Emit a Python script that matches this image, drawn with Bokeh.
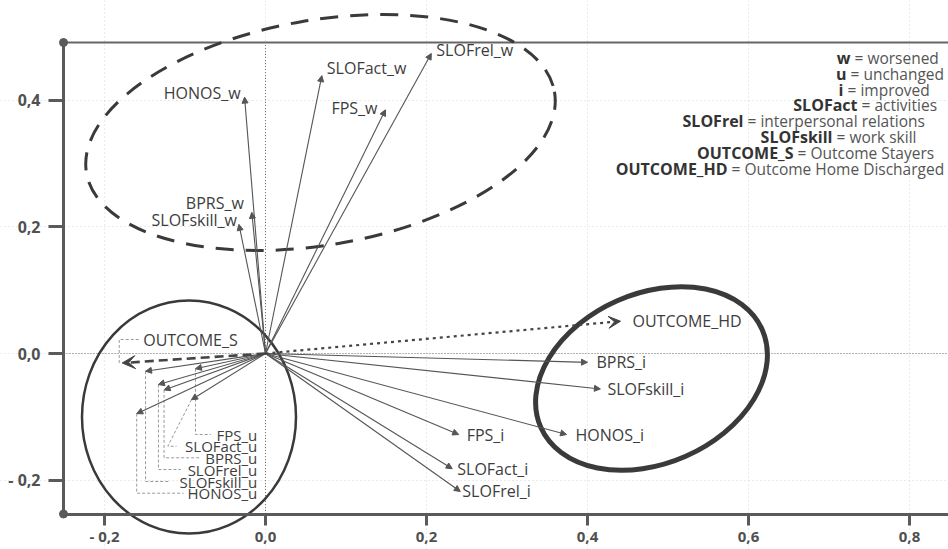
from bokeh.plotting import figure
from bokeh.models import (ColumnDataSource, Arrow, NormalHead, VeeHead, FixedTicker,
                          CustomJSTickFormatter, Range1d)
from bokeh.core.properties import value
from bokeh.embed import file_html
from bokeh.resources import INLINE

# ---------------- data ----------------
worsened_names = ["HONOS_w", "SLOFact_w", "SLOFrel_w", "FPS_w", "BPRS_w", "SLOFskill_w"]
worsened_x = [-0.026, 0.070, 0.206, 0.149, -0.017, -0.033]
worsened_y = [0.405, 0.439, 0.474, 0.385, 0.223, 0.204]

unchanged_names = ["FPS_u", "SLOFact_u", "BPRS_u", "SLOFrel_u", "SLOFskill_u", "HONOS_u"]
unchanged_x = [-0.087, -0.092, -0.126, -0.133, -0.149, -0.160]
unchanged_y = [-0.024, -0.073, -0.0575, -0.049, -0.028, -0.095]

improved_names = ["BPRS_i", "SLOFskill_i", "HONOS_i", "FPS_i", "SLOFact_i", "SLOFrel_i"]
improved_x = [0.400, 0.416, 0.374, 0.240, 0.232, 0.242]
improved_y = [-0.014, -0.056, -0.128, -0.128, -0.182, -0.218]

outcome_hd_name, outcome_hd_x, outcome_hd_y = "OUTCOME_HD", 0.441, 0.051
outcome_s_name, outcome_s_x, outcome_s_y = "OUTCOME_S", -0.178, -0.015

x_ticks = [-0.2, 0.0, 0.2, 0.4, 0.6, 0.8]
y_ticks = [-0.2, 0.0, 0.2, 0.4]

legend_keys = ["w", "u", "i", "SLOFact", "SLOFrel", "SLOFskill", "OUTCOME_S", "OUTCOME_HD"]
legend_texts = ["= worsened", "= unchanged", "= improved", "= activities",
                "= interpersonal relations", "= work skill", "= Outcome Stayers",
                "= Outcome Home Discharged"]

# ---------------- layout helpers (page pixels -> data) ----------------
X0_PX, X_PX_PER_UNIT = 265.0, 805.0
Y0_PX, Y_PX_PER_UNIT = 353.0, 633.0


def px2x(px):
    return (px - X0_PX) / X_PX_PER_UNIT


def py2y(py):
    return (Y0_PX - py) / Y_PX_PER_UNIT


X_LEFT = px2x(63)
X_RIGHT = px2x(948)
Y_TOP = py2y(42)
Y_BOT = py2y(513.5)

FONT_NAME = "Open Sans"
FONT = value(FONT_NAME)
TXT = "#3d3d3d"
ARROW = "#555555"
AXIS = "#5a5a5a"

p = figure(width=948, height=549,
           x_range=Range1d(px2x(0), X_RIGHT), y_range=Range1d(py2y(549), py2y(0)),
           output_backend="svg", toolbar_location=None,
           min_border_left=0, min_border_right=0, min_border_top=0, min_border_bottom=0)
p.outline_line_color = None
p.background_fill_color = "white"
p.border_fill_color = "white"

fmt = CustomJSTickFormatter(code="""
const s = Math.abs(tick).toFixed(1).replace('.', ',');
return tick < -1e-9 ? '- ' + s : s;
""")

for ax in (p.xaxis[0], p.yaxis[0]):
    ax.formatter = fmt
    ax.axis_line_color = AXIS
    ax.axis_line_width = 3
    ax.major_tick_line_color = AXIS
    ax.major_tick_line_width = 3
    ax.major_tick_in = 0
    ax.minor_tick_line_color = None
    ax.major_label_text_font = FONT_NAME
    ax.major_label_text_font_style = "bold"
    ax.major_label_text_font_size = "16px"
    ax.major_label_text_color = "#505050"

p.xaxis[0].ticker = FixedTicker(ticks=x_ticks)
p.yaxis[0].ticker = FixedTicker(ticks=y_ticks)
p.xaxis[0].fixed_location = Y_BOT
p.xaxis[0].bounds = (X_LEFT, X_RIGHT)
p.xaxis[0].major_tick_out = 11
p.xaxis[0].major_label_standoff = 1
p.xaxis[0].major_label_text_font_size = "15px"
p.yaxis[0].fixed_location = X_LEFT
p.yaxis[0].major_tick_out = 15
p.yaxis[0].major_label_standoff = 8
p.yaxis[0].bounds = (Y_BOT, Y_TOP)

p.xgrid.ticker = FixedTicker(ticks=x_ticks)
p.ygrid.ticker = FixedTicker(ticks=y_ticks)
p.xgrid.bounds = (Y_BOT, Y_TOP)
p.ygrid.bounds = (X_LEFT, X_RIGHT)
for g in (p.xgrid[0], p.ygrid[0]):
    g.grid_line_color = "#d4d4d4"
    g.grid_line_dash = "1 3"
    g.grid_line_width = 1

# frame top border and zero lines
p.segment(x0=[X_LEFT], y0=[Y_TOP], x1=[X_RIGHT], y1=[Y_TOP], line_color="#666666",
          line_width=2)
p.segment(x0=[X_LEFT, 0], y0=[0, Y_BOT], x1=[X_RIGHT, 0], y1=[0, Y_TOP],
          line_color="#777777", line_width=1, line_dash="1 2")
p.scatter(x=[X_LEFT, X_LEFT], y=[Y_TOP, Y_BOT], size=8, color=AXIS)

# ---------------- grouping ellipses ----------------
ell_x = [px2x(320), px2x(188.5), px2x(651)]
ell_y = [py2y(132), py2y(416.5), py2y(378)]
ell_w = [475, 214, 242]
ell_h = [225, 233, 170]
ell_a = [0.172, 0.0, 0.415]
ell_dash = ["18 12", "solid", "solid"]
ell_lw = [3, 2.5, 5]
for i in range(3):
    p.ellipse(x=[ell_x[i]], y=[ell_y[i]], width=[ell_w[i]], height=[ell_h[i]],
              angle=[ell_a[i]], width_units="screen", height_units="screen",
              fill_color=None, line_color="#3a3a3a", line_width=ell_lw[i],
              line_dash=ell_dash[i])

# ---------------- leaders for unchanged labels ----------------
u_label_py = [434, 445.7, 457.3, 469, 481, 492.7]
u_label_start_px = [213.3, 179, 201.7, 183.3, 171.7, 186]
u_bend_px = [None, 167.3, None, None, None, None]
lead_xs, lead_ys = [], []
for i in range(len(unchanged_names)):
    tx, ty = unchanged_x[i], unchanged_y[i]
    bx = tx if u_bend_px[i] is None else px2x(u_bend_px[i])
    ly = py2y(u_label_py[i])
    lead_xs.append([tx, bx, px2x(u_label_start_px[i] - 3)])
    lead_ys.append([ty, ly, ly])
# OUTCOME_S leader
s_lab_x, s_lab_y = px2x(142.7), py2y(339)
lead_xs.append([outcome_s_x - 3 / X_PX_PER_UNIT, outcome_s_x - 3 / X_PX_PER_UNIT,
                s_lab_x - 3 / X_PX_PER_UNIT])
lead_ys.append([outcome_s_y, s_lab_y, s_lab_y])
p.multi_line(xs=lead_xs, ys=lead_ys, line_color="#9a9a9a", line_width=1, line_dash="3 2")


# ---------------- arrows ----------------
def add_arrows(xs, ys, head, **kw):
    src = ColumnDataSource(dict(x0=[0.0] * len(xs), y0=[0.0] * len(xs), x1=list(xs), y1=list(ys)))
    p.add_layout(Arrow(end=head, x_start="x0", y_start="y0", x_end="x1", y_end="y1",
                       source=src, **kw))


small = dict(size=6, fill_color=ARROW, line_color=ARROW, line_width=1)
add_arrows(worsened_x, worsened_y, NormalHead(**small), line_color=ARROW, line_width=1.1)
add_arrows(unchanged_x, unchanged_y, NormalHead(**small), line_color=ARROW, line_width=1.1)
add_arrows(improved_x, improved_y, NormalHead(**small), line_color=ARROW, line_width=1.1)
add_arrows([outcome_hd_x], [outcome_hd_y],
           VeeHead(size=12, fill_color="#444444", line_color="#444444"),
           line_color="#444444", line_width=2.2, line_dash="3 4")
add_arrows([outcome_s_x], [outcome_s_y],
           VeeHead(size=13, fill_color="#444444", line_color="#444444"),
           line_color="#444444", line_width=2.6, line_dash="9 5")

# ---------------- labels ----------------
lab_kw = dict(text_font=FONT, text_font_size="16px", text_color=TXT, text_baseline="middle")

w_align = ["right", "left", "left", "right", "right", "right"]
w_dx = [-4, 5, 5, -8, -8, -2]
w_dy = [-4, -8, -3, -2, -9, -4]
for align in ("left", "right"):
    idx = [i for i in range(len(worsened_names)) if w_align[i] == align]
    p.text(x=[worsened_x[i] for i in idx], y=[worsened_y[i] for i in idx],
           text=[worsened_names[i] for i in idx],
           x_offset=[w_dx[i] for i in idx], y_offset=[w_dy[i] for i in idx],
           text_align=align, **lab_kw)

i_dx = [9, 7, 9, 8, 5, 2]
p.text(x=improved_x, y=improved_y, text=improved_names, x_offset=i_dx, y_offset=[0] * 6,
       text_align="left", **lab_kw)

p.text(x=[outcome_hd_x], y=[outcome_hd_y], text=[outcome_hd_name], x_offset=[12],
       y_offset=[0], text_align="left", **lab_kw)
p.text(x=[s_lab_x], y=[s_lab_y], text=[outcome_s_name], text_align="left", **lab_kw)

u_kw = dict(lab_kw, text_font_size="15px")
p.text(x=[px2x(256.7)] * 6, y=[py2y(v) for v in u_label_py], text=unchanged_names,
       text_align="right", **u_kw)

# ---------------- legend (bold key + regular description) ----------------
leg_eq_px = [858, 854, 851, 865, 751, 840, 801, 735]
leg_py = [57.5 + 15.8 * i for i in range(len(legend_keys))]
p.text(x=[px2x(v - 8) for v in leg_eq_px], y=[py2y(v) for v in leg_py], text=legend_keys,
       text_align="right", text_baseline="middle", text_font=FONT, text_font_size="16px",
       text_font_style="bold", text_color="#333333")
p.text(x=[px2x(v - 4) for v in leg_eq_px], y=[py2y(v) for v in leg_py], text=legend_texts,
       text_align="left", text_baseline="middle", text_font=FONT, text_font_size="15.5px",
       text_color="#555555")

open("out.html", "w").write(file_html(p, INLINE))
